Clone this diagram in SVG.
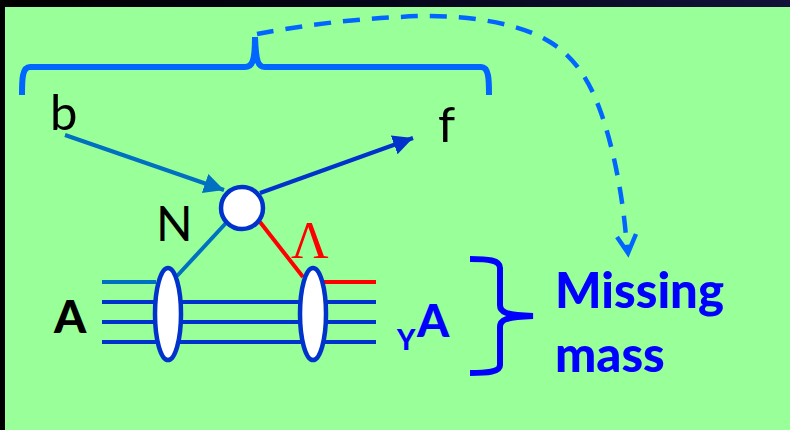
<svg xmlns="http://www.w3.org/2000/svg" width="790" height="430" viewBox="0 0 790 430">
<defs>
<linearGradient id="top" x1="0" x2="1" y1="0" y2="0"><stop offset="0" stop-color="#000"/><stop offset="0.5" stop-color="#05051a"/><stop offset="1" stop-color="#12123a"/></linearGradient>
<marker id="hb" markerUnits="userSpaceOnUse" markerWidth="24" markerHeight="24" refX="20" refY="10" orient="auto"><path d="M0,0L20,10L0,20z" fill="#0070C0"/></marker>
<marker id="hf" markerUnits="userSpaceOnUse" markerWidth="24" markerHeight="24" refX="20" refY="10" orient="auto"><path d="M0,0L20,10L0,20z" fill="#0033CC"/></marker>
</defs>
<style>
.t{font-family:"Lato","Open Sans",sans-serif;fill:#000}
.b{font-weight:900}
.blue{fill:#0000FF}
.l{fill:none;stroke-width:4}
.n{stroke:#0033CC}
.c{stroke:#0070C0}
.r{stroke:#FF0000}
.brace{fill:none;stroke:#0066FF;stroke-width:6}
.el{fill:#fff;stroke:#0033CC;stroke-width:4.5}
</style>
<rect width="790" height="430" fill="#000"/>
<rect width="790" height="7" fill="url(#top)"/>
<rect x="5" y="7" width="785" height="423" fill="#99FF99"/>
<g id="connectors">
<path class="l c" d="M102,282H156"/>
<path class="l n" d="M102,302H376M102,322H376M102,342H376"/>
<path class="l r" d="M323,282H376"/>
<path class="l c" d="M226,223L177,276"/>
<path class="l r" d="M260,222L303,277"/>
<path class="l c" d="M65,135L224,190" marker-end="url(#hb)"/>
<path class="l n" d="M260,193L413,138" marker-end="url(#hf)"/>
<path d="M257,34C300,26 350,19 401,17C450,13 515,20 550,42C575,57 590,82 600,110C613,145 624,200 627,250" fill="none" stroke="#0066FF" stroke-width="4.5" stroke-dasharray="17 12"/>
<path d="M617,237L628,253L636,234" fill="none" stroke="#0066FF" stroke-width="4.5"/>
</g>
<g id="top-brace"><path class="brace" d="M22,95C22,80 22,67 30,67H245C252,67 255,62 255,37C256,62 258,67 265,67H481C489,67 489,80 489,95"/></g>
<g id="right-brace"><path d="M470,259C488,259 500,260 500,268V305C500,312 505,315 533,316C505,317 500,320 500,327V365C500,372 488,373 470,373" fill="none" stroke="#0000FF" stroke-width="6"/></g>
<g id="vertex"><circle class="el" cx="242" cy="208" r="21"/></g>
<g id="ellipse-left"><ellipse class="el" cx="168" cy="314" rx="13" ry="46"/></g>
<g id="ellipse-right"><ellipse class="el" cx="313" cy="314" rx="13" ry="46"/></g>
<g id="label-b"><text class="t" x="50" y="130" font-size="49">b</text></g>
<g id="label-f"><text class="t" x="438" y="142" font-size="49">f</text></g>
<g id="label-N"><text class="t" x="156" y="241" font-size="48">N</text></g>
<g id="label-lambda"><text x="291" y="258" font-size="52" fill="#FF0000" font-family="'Liberation Serif',serif">Λ</text></g>
<g id="label-A"><text class="t b" x="54" y="333" font-size="46">A</text></g>
<g id="label-YA"><text class="t b blue" x="397" y="350" font-size="28">Y</text><text class="t b blue" x="417" y="337" font-size="46">A</text></g>
<g id="label-missing"><text class="t b blue" x="555" y="308" font-size="49">Missing</text><text class="t b blue" x="555" y="372" font-size="49">mass</text></g>
</svg>
